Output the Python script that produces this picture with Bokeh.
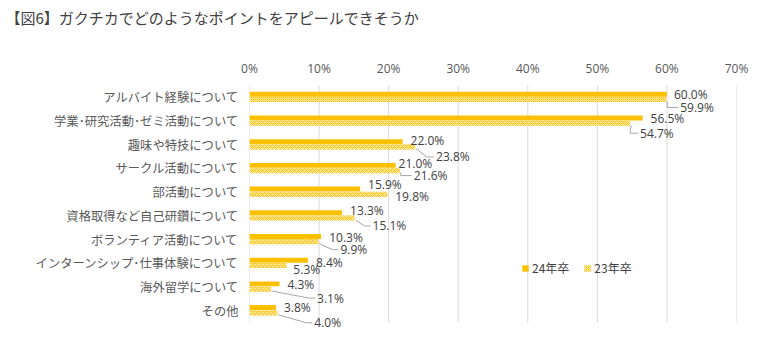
import numpy as np
from bokeh.plotting import figure
from bokeh.models import ColumnDataSource, Range1d, FixedTicker, Legend, LegendItem
from bokeh.transform import dodge
from bokeh.core.properties import value
from bokeh.embed import file_html
from bokeh.resources import INLINE

# ---- data ----
categories = [
    "アルバイト経験について",
    "学業･研究活動･ゼミ活動について",
    "趣味や特技について",
    "サークル活動について",
    "部活動について",
    "資格取得など自己研鑽について",
    "ボランティア活動について",
    "インターンシップ･仕事体験について",
    "海外留学について",
    "その他",
]
series_names = ["24年卒", "23年卒"]
values_24 = [60.0, 56.5, 22.0, 21.0, 15.9, 13.3, 10.3, 8.4, 4.3, 3.8]
values_23 = [59.9, 54.7, 23.8, 21.6, 19.8, 15.1, 9.9, 5.3, 3.1, 4.0]
x_ticks = [0, 10, 20, 30, 40, 50, 60, 70]
x_tick_labels = ["0%", "10%", "20%", "30%", "40%", "50%", "60%", "70%"]
title_text = "【図6】ガクチカでどのようなポイントをアピールできそうか"

# ---- label layout (pixel offsets, styling only) ----
dx24 = [7, 8, 8, 3, 8, 8, 8, 8, 8, 8]
dy24 = [0, 1, -1, -2, -5, -2, 1, 2, 1, 0]
dx23 = [14, 10, 21, 14, 8, 18, 22, 7, 46, 37]
dy23 = [8, 10, 10, 5, 2, 8, 8, 4, 9, 10]
has_leader = [True, True, True, True, False, True, True, False, True, True]
elbow23 = [1, 0, 12, 1, 0, 10, 14, 0, 38, 29]

FONT = "Noto Sans CJK JP"
NUMFONT = "Open Sans"
W, H = 761, 347
FL, FR, FT, FB = 249, 25, 85, 2
ROWS_PX = 237                      # pixel height of the 10 category rows
x_max = x_ticks[-1]
n = len(categories)
kx = x_max / (W - FL - FR)         # data units per px
ky = n / ROWS_PX                   # rows per px
y_bottom = -0.5 + (H - FT - FB) * ky

OFF24, OFF23 = -0.13, 0.09

rows = list(range(n))
src = ColumnDataSource(dict(
    row=rows, v24=values_24, v23=values_23,
    t24=[f"{v:.1f}%" for v in values_24],
    t23=[f"{v:.1f}%" for v in values_23],
    dx24=dx24, dy24=dy24, dx23=dx23, dy23=dy23,
))

p = figure(width=W, height=H, x_range=Range1d(0, x_max), y_range=Range1d(y_bottom, -0.5),
           x_axis_location="above", output_backend="svg", toolbar_location=None,
           min_border_left=FL, min_border_right=FR, min_border_top=FT, min_border_bottom=FB)
p.outline_line_color = None
p.background_fill_color = "white"

# title
p.title.text = title_text
p.title.align = "left"
p.title.offset = 5 - FL
p.title.standoff = 6
p.title.text_font = FONT
p.title.text_font_size = "15px"
p.title.text_font_style = "normal"
p.title.text_color = "#404040"

# axes
p.xaxis.ticker = FixedTicker(ticks=x_ticks)
p.xaxis.major_label_overrides = {t: l for t, l in zip(x_ticks, x_tick_labels)}
p.xaxis.axis_label = " "          # blank spacer between tick labels and title
p.xaxis.axis_label_text_font_size = "12px"
p.xaxis.axis_label_standoff = 9
p.yaxis.ticker = FixedTicker(ticks=rows)
p.yaxis.major_label_overrides = {i: c for i, c in enumerate(categories)}
for ax in (p.xaxis, p.yaxis):
    ax.axis_line_color = None
    ax.major_tick_line_color = None
    ax.minor_tick_line_color = None
    ax.major_label_text_color = "#595959"
p.xaxis.major_label_text_font = NUMFONT
p.xaxis.major_label_text_font_size = "12px"
p.xaxis.major_label_standoff = 3
p.yaxis.major_label_text_font = FONT
p.yaxis.major_label_text_font_size = "12.3px"
p.yaxis.major_label_standoff = 5
p.xgrid.grid_line_color = None
p.ygrid.grid_line_color = None

# vertical gridlines at the tick values, spanning the category rows only
p.segment(x0=x_ticks, x1=x_ticks, y0=[-0.5] * len(x_ticks), y1=[n - 0.5] * len(x_ticks),
          line_color="#D9D9D9", line_width=1)

# bars
r24 = p.hbar(y=dodge("row", OFF24), left=0, right="v24", height=0.21, source=src,
             fill_color="#FFC000", line_color=None)
r23 = p.hbar(y=dodge("row", OFF23), left=0, right="v23", height=0.22, source=src,
             fill_color="#FFE699", line_color=None,
             hatch_pattern="diagonal_cross", hatch_color="#FFC000",
             hatch_scale=4, hatch_weight=1)

# leader lines for 23年卒 labels
xs, ys = [], []
for i in range(n):
    if not has_leader[i]:
        continue
    v = values_23[i]
    yc = i + OFF23
    ly = yc + dy23[i] * ky
    xs.append([v + 1 * kx, v + elbow23[i] * kx, v + (dx23[i] - 2) * kx])
    ys.append([yc + 2 * ky, ly, ly])
p.multi_line(xs=xs, ys=ys, line_color="#A6A6A6", line_width=1)

# data labels
p.text(x="v24", y=dodge("row", OFF24), text="t24", x_offset="dx24", y_offset="dy24",
       source=src, text_font=value(NUMFONT), text_font_size="12px", text_color="#404040",
       text_baseline="middle", text_align="left")
p.text(x="v23", y=dodge("row", OFF23), text="t23", x_offset="dx23", y_offset="dy23",
       source=src, text_font=value(NUMFONT), text_font_size="12px", text_color="#404040",
       text_baseline="middle", text_align="left")

# legend
legend = Legend(items=[LegendItem(label=series_names[0], renderers=[r24]),
                       LegendItem(label=series_names[1], renderers=[r23])],
                orientation="horizontal", location=(272, 69),
                border_line_color=None, background_fill_alpha=0,
                glyph_width=8, glyph_height=8, label_height=12,
                label_text_font=FONT, label_text_font_size="12px",
                label_text_color="#404040", label_standoff=3,
                padding=0, spacing=14, margin=0)
p.add_layout(legend)

open("out.html", "w").write(file_html(p, INLINE))
